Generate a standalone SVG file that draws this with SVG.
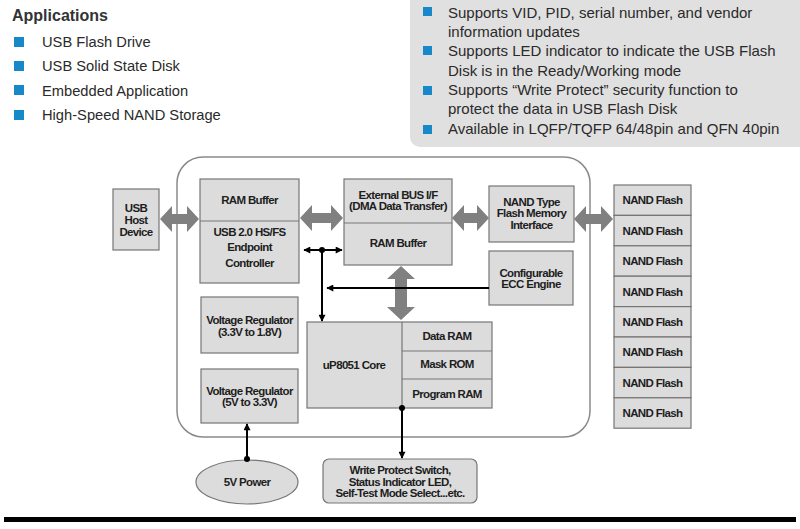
<svg xmlns="http://www.w3.org/2000/svg" width="800" height="529" viewBox="0 0 800 529">
<defs>
<style>
.box{fill:#dcdcdc;stroke:#767676;stroke-width:1.2}
.t{font-family:"Liberation Sans",Arial,sans-serif;font-weight:bold;font-size:11.5px;letter-spacing:-0.65px;fill:#1e1e1e;text-anchor:middle}
.hd{font-family:"Liberation Sans",Arial,sans-serif;font-size:15px;fill:#2a2a2a}
.lh{font-size:14.7px}
.bul{fill:#1788c8}
.fat{fill:#808080}
.ln{stroke:#000;stroke-width:2;fill:none}
</style>
<marker id="ah" viewBox="0 0 10 10" refX="9" refY="5" markerWidth="8" markerHeight="7" markerUnits="userSpaceOnUse" orient="auto-start-reverse">
<path d="M0,0 L10,5 L0,10 z" fill="#000"/>
</marker>
</defs>
<rect width="800" height="529" fill="#fff"/>

<g id="applications">
<text x="12" y="21" class="hd" style="font-weight:bold;font-size:16px;fill:#333">Applications</text>
<rect class="bul" x="14" y="37" width="10" height="10"/>
<text x="42" y="47" class="hd lh">USB Flash Drive</text>
<rect class="bul" x="14" y="61" width="10" height="10"/>
<text x="42" y="71" class="hd lh">USB Solid State Disk</text>
<rect class="bul" x="14" y="85" width="10" height="10"/>
<text x="42" y="96" class="hd lh">Embedded Application</text>
<rect class="bul" x="14" y="110" width="10" height="10"/>
<text x="42" y="120" class="hd lh">High-Speed NAND Storage</text>
</g>

<g id="features">
<rect x="410" y="-20" width="400" height="167" rx="10" fill="#e0e0e0"/>
<rect class="bul" x="423" y="7" width="9" height="9"/>
<text x="448" y="18" class="hd">Supports VID, PID, serial number, and vendor</text>
<text x="448" y="37" class="hd">information updates</text>
<rect class="bul" x="423" y="46" width="9" height="9"/>
<text x="448" y="56" class="hd">Supports LED indicator to indicate the USB Flash</text>
<text x="448" y="76" class="hd">Disk is in the Ready/Working mode</text>
<rect class="bul" x="423" y="86" width="9" height="9"/>
<text x="448" y="95" class="hd">Supports “Write Protect” security function to</text>
<text x="448" y="114" class="hd">protect the data in USB Flash Disk</text>
<rect class="bul" x="423" y="125" width="9" height="9"/>
<text x="448" y="134" class="hd">Available in LQFP/TQFP 64/48pin and QFN 40pin</text>
</g>

<g id="controller-chip">
<rect x="177" y="157" width="413" height="280" rx="26" fill="#fff" stroke="#8a8a8a" stroke-width="1.5"/>
</g>

<g id="usb-host">
<rect class="box" x="113" y="189" width="46" height="61"/>
<text class="t" x="136" y="212">USB</text>
<text class="t" x="136" y="224">Host</text>
<text class="t" x="136" y="236">Device</text>
</g>

<g id="usb-endpoint">
<rect class="box" x="200" y="179" width="99" height="104"/>
<line x1="200" y1="221" x2="299" y2="221" stroke="#767676" stroke-width="1.2"/>
<text class="t" x="249.5" y="204">RAM Buffer</text>
<text class="t" x="249.5" y="236">USB 2.0 HS/FS</text>
<text class="t" x="249.5" y="251">Endpoint</text>
<text class="t" x="249.5" y="267">Controller</text>
</g>

<g id="external-bus">
<rect class="box" x="344" y="179" width="108" height="86"/>
<line x1="344" y1="223" x2="452" y2="223" stroke="#767676" stroke-width="1.2"/>
<text class="t" x="398" y="199">External BUS I/F</text>
<text class="t" x="398" y="210">(DMA Data Transfer)</text>
<text class="t" x="398" y="247">RAM Buffer</text>
</g>

<g id="nand-interface">
<rect class="box" x="489" y="186" width="85" height="56"/>
<text class="t" x="531.5" y="206">NAND Type</text>
<text class="t" x="531.5" y="217">Flash Memory</text>
<text class="t" x="531.5" y="229">Interface</text>
</g>

<g id="ecc-engine">
<rect class="box" x="489" y="251" width="84" height="54"/>
<text class="t" x="531" y="277">Configurable</text>
<text class="t" x="531" y="288">ECC Engine</text>
</g>

<g id="vreg-1">
<rect class="box" x="201" y="297" width="97" height="56"/>
<text class="t" x="249.5" y="324">Voltage Regulator</text>
<text class="t" x="249.5" y="336">(3.3V to 1.8V)</text>
</g>

<g id="vreg-2">
<rect class="box" x="201" y="369" width="97" height="54"/>
<text class="t" x="249.5" y="395">Voltage Regulator</text>
<text class="t" x="249.5" y="406">(5V to 3.3V)</text>
</g>

<g id="up8051">
<rect class="box" x="307" y="322" width="185" height="86"/>
<line x1="402" y1="322" x2="402" y2="408" stroke="#767676" stroke-width="1.2"/>
<line x1="402" y1="351" x2="492" y2="351" stroke="#767676" stroke-width="1.2"/>
<line x1="402" y1="379" x2="492" y2="379" stroke="#767676" stroke-width="1.2"/>
<text class="t" x="354" y="369">uP8051 Core</text>
<text class="t" x="447" y="340">Data RAM</text>
<text class="t" x="447" y="368">Mask ROM</text>
<text class="t" x="447" y="398">Program RAM</text>
</g>

<g id="nand-flash">
<rect class="box" x="614" y="185" width="77" height="30.4"/>
<rect class="box" x="614" y="215.4" width="77" height="30.4"/>
<rect class="box" x="614" y="245.8" width="77" height="30.4"/>
<rect class="box" x="614" y="276.2" width="77" height="30.4"/>
<rect class="box" x="614" y="306.6" width="77" height="30.4"/>
<rect class="box" x="614" y="337" width="77" height="30.4"/>
<rect class="box" x="614" y="367.4" width="77" height="30.4"/>
<rect class="box" x="614" y="397.8" width="77" height="30.4"/>
<text class="t" x="652.5" y="204">NAND Flash</text>
<text class="t" x="652.5" y="234.5">NAND Flash</text>
<text class="t" x="652.5" y="265">NAND Flash</text>
<text class="t" x="652.5" y="295.5">NAND Flash</text>
<text class="t" x="652.5" y="326">NAND Flash</text>
<text class="t" x="652.5" y="356">NAND Flash</text>
<text class="t" x="652.5" y="386.5">NAND Flash</text>
<text class="t" x="652.5" y="417">NAND Flash</text>
</g>

<g id="power-5v">
<ellipse cx="247" cy="482" rx="51" ry="22" fill="#dcdcdc" stroke="#767676" stroke-width="1.2"/>
<text class="t" x="247" y="486">5V Power</text>
</g>

<g id="io-peripherals">
<rect class="box" x="323" y="459" width="154" height="44" rx="6"/>
<text class="t" x="400" y="474">Write Protect Switch,</text>
<text class="t" x="400" y="486">Status Indicator LED,</text>
<text class="t" x="400" y="497">Self-Test Mode Select...etc.</text>
</g>

<g id="connectors">
<polygon class="fat" points="160,219 172,206 172,214 187,214 187,206 199,219 187,232 187,224 172,224 172,232"/>
<polygon class="fat" points="300,218 312,205 312,213 331,213 331,205 343,218 331,231 331,223 312,223 312,231"/>
<polygon class="fat" points="452,218 464,205 464,213 477,213 477,205 489,218 477,231 477,223 464,223 464,231"/>
<polygon class="fat" points="574,219 586,206 586,214 601,214 601,206 613,219 601,232 601,224 586,224 586,232"/>
<polygon class="fat" points="401,266 415,279 407,279 407,307 415,307 401,320 387,307 395,307 395,279 387,279"/>
<line class="ln" x1="304" y1="250" x2="342" y2="250" marker-start="url(#ah)" marker-end="url(#ah)"/>
<line class="ln" x1="322" y1="250" x2="322" y2="321" marker-end="url(#ah)"/>
<circle cx="322" cy="250" r="3" fill="#000"/>
<line class="ln" x1="489" y1="288" x2="327" y2="288" marker-end="url(#ah)"/>
<line class="ln" x1="402" y1="408" x2="402" y2="458" marker-end="url(#ah)"/>
<circle cx="402" cy="408" r="3" fill="#000"/>
<line class="ln" x1="247" y1="459" x2="247" y2="424" marker-end="url(#ah)"/>
<circle cx="247" cy="459" r="3" fill="#000"/>
</g>

<g id="footer-rule">
<rect x="4" y="517" width="792" height="5" fill="#000"/>
</g>
</svg>
